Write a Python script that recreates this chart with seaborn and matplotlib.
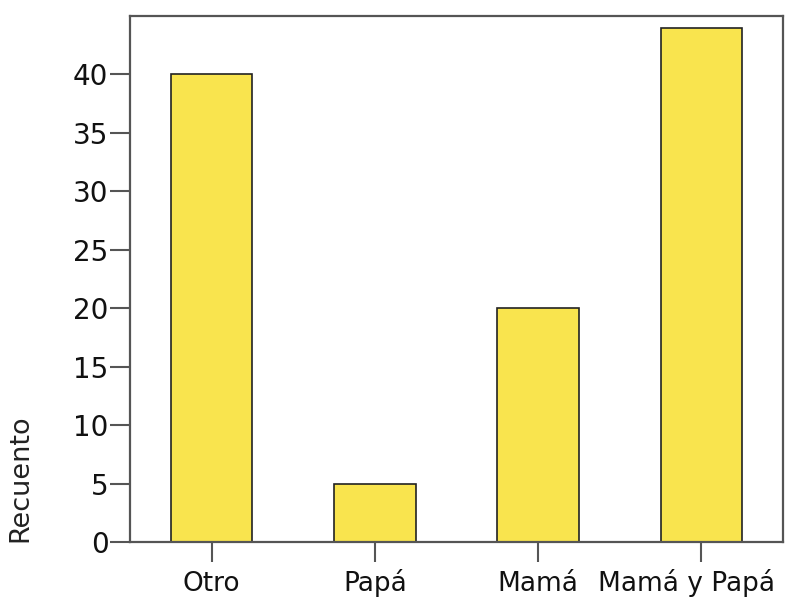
import matplotlib
matplotlib.use("Agg")
import matplotlib.pyplot as plt
from matplotlib.transforms import ScaledTranslation
import seaborn as sns
import pandas as pd

categories = ["Otro", "Papá", "Mamá", "Mamá y Papá"]
counts = [40, 5, 20, 44]
yticks = [0, 5, 10, 15, 20, 25, 30, 35, 40]

sns.set_theme(style="white")
plt.rcParams['font.family'] = ['DejaVu Sans']

df = pd.DataFrame({"cat": categories, "n": counts})

fig = plt.figure(figsize=(7.96, 5.97), dpi=100)
ax = fig.add_axes([130/796, 1-542/597, (783-130)/796, (542-16)/597])

sns.barplot(data=df, x="cat", y="n", ax=ax, color="#F9E44E", width=0.5,
            edgecolor="#222222", linewidth=1.2, saturation=1)

ax.set_xlim(-0.5, 3.5)
ax.set_ylim(0, 45)
ax.set_yticks(yticks)
ax.set_xlabel("")
ax.set_ylabel("Recuento", fontsize=19.5, color="#222222", loc="bottom")
ax.yaxis.set_label_coords(-0.148, 0)

for s in ax.spines.values():
    s.set_visible(True)
    s.set_color("#555555")
    s.set_linewidth(1.6)

ax.tick_params(axis="both", which="major", direction="out", length=14.5,
               width=1.5, color="#555555", labelsize=20, labelcolor="#111111",
               left=True, bottom=True, pad=1)
ax.tick_params(axis="x", pad=20.5, labelsize=19)
ax.grid(False)

labels = ax.get_xticklabels()
for lab in labels:
    lab.set_verticalalignment("baseline")
last = labels[-1]
last.set_transform(last.get_transform() + ScaledTranslation(-0.15, 0, fig.dpi_scale_trans))

fig.savefig("out.png", dpi=100)
